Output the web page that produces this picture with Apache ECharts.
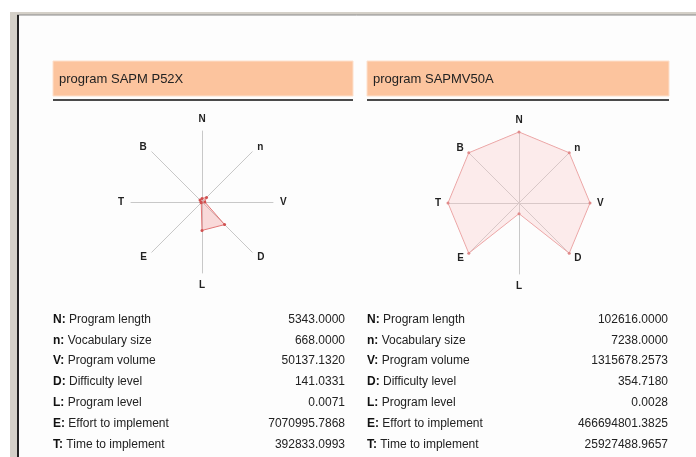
<!DOCTYPE html>
<html>
<head>
<meta charset="utf-8">
<script src="https://cdn.jsdelivr.net/npm/echarts@6/dist/echarts.min.js"></script>
<style>html,body{margin:0;padding:0;background:#fff;}#c{width:696px;height:457px;}</style>
</head>
<body>
<div id="c"></div>
<script>
// Radar axes in drawing order (counterclockwise from top)
var radarAxes = ['N', 'B', 'T', 'E', 'L', 'D', 'V', 'n'];
// Normalised radar values (fraction of axis max), same order as radarAxes
var leftRadar  = [0.05, 0.04, 0.015, 0.015, 0.40, 0.45, 0.04, 0.09];
var rightRadar = [1.0, 1.0, 1.0, 1.0, 0.15, 1.0, 1.0, 1.0];

var titles = ['program SAPM P52X', 'program SAPMV50A'];

var rowKeys = ['N:', 'n:', 'V:', 'D:', 'L:', 'E:', 'T:'];
var rowNames = ['Program length', 'Vocabulary size', 'Program volume', 'Difficulty level', 'Program level', 'Effort to implement', 'Time to implement'];
var leftValues = ['5343.0000', '668.0000', '50137.1320', '141.0331', '0.0071', '7070995.7868', '392833.0993'];
var rightValues = ['102616.0000', '7238.0000', '1315678.2573', '354.7180', '0.0028', '466694801.3825', '25927488.9657'];

var chart = echarts.init(document.getElementById('c'), null, {renderer: 'canvas'});
var FONT = '"Liberation Sans", Arial, sans-serif';

function radarCfg(center) {
  return {
    center: center,
    radius: 71,
    startAngle: 90,
    splitNumber: 1,
    shape: 'polygon',
    nameGap: 7,
    axisName: {color: '#222', fontWeight: 'bold', fontSize: 10, fontFamily: FONT},
    axisLine: {lineStyle: {color: '#c8c8c8', width: 1}},
    splitLine: {show: false},
    splitArea: {show: false},
    axisTick: {show: false},
    axisLabel: {show: false},
    indicator: radarAxes.map(function (n) { return {name: n, min: 0, max: 1}; })
  };
}

var graphics = [];
// frame
graphics.push({type: 'rect', shape: {x: 10, y: 12, width: 686, height: 445}, style: {fill: '#d4d0c8'}, z: -10});
graphics.push({type: 'rect', shape: {x: 17, y: 15, width: 679, height: 442}, style: {fill: '#fdfdfd'}, z: -9});
graphics.push({type: 'line', shape: {x1: 17, y1: 15, x2: 696, y2: 15}, style: {stroke: '#8a8a8a', lineWidth: 1}, z: -8});
graphics.push({type: 'line', shape: {x1: 18, y1: 15, x2: 18, y2: 457}, style: {stroke: '#222', lineWidth: 2}, z: -8});

var panelX = [53, 367];
var panelW = [300, 302];
var valueRight = [345, 668];
for (var p = 0; p < 2; p++) {
  var x0 = panelX[p];
  graphics.push({type: 'rect', shape: {x: x0, y: 61, width: panelW[p], height: 35}, style: {fill: '#fcc49e', stroke: '#fde0cc', lineWidth: 1}});
  graphics.push({type: 'text', x: x0 + 6, y: 79, style: {text: titles[p], fill: '#222', font: '13px ' + FONT, verticalAlign: 'middle'}});
  graphics.push({type: 'rect', shape: {x: x0, y: 99, width: panelW[p], height: 2}, style: {fill: '#4a4a4a'}});
  var vals = p === 0 ? leftValues : rightValues;
  for (var i = 0; i < rowKeys.length; i++) {
    var y = 319.5 + i * 20.8;
    graphics.push({type: 'text', x: x0, y: y, style: {
      text: '{k|' + rowKeys[i] + '} ' + rowNames[i],
      rich: {k: {fontWeight: 'bold', fontSize: 12, fontFamily: FONT, fill: '#111'}},
      fill: '#222', font: '12px ' + FONT, verticalAlign: 'middle'}});
    graphics.push({type: 'text', x: valueRight[p], y: y, style: {
      text: vals[i], fill: '#222', font: '12px ' + FONT, align: 'right', verticalAlign: 'middle'}});
  }
}

chart.setOption({
  backgroundColor: '#fff',
  animation: false,
  radar: [radarCfg([202, 202]), radarCfg([519, 203])],
  graphic: graphics,
  series: [
    {type: 'radar', radarIndex: 0, symbol: 'circle', symbolSize: 3,
     itemStyle: {color: '#d05050'},
     lineStyle: {color: '#e07070', width: 1},
     areaStyle: {color: 'rgba(240,150,150,0.5)'},
     data: [{value: leftRadar}]},
    {type: 'radar', radarIndex: 1, symbol: 'circle', symbolSize: 3,
     itemStyle: {color: '#e08a8a'},
     lineStyle: {color: '#eaa0a0', width: 1},
     areaStyle: {color: 'rgba(248,200,200,0.5)'},
     data: [{value: rightRadar}]}
  ]
});
</script>
</body>
</html>
